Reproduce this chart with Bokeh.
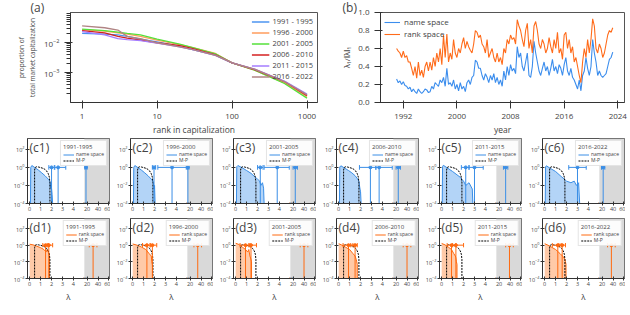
import numpy as np
from bokeh.plotting import figure
from bokeh.layouts import column, row
from bokeh.models import (Legend, LegendItem, Label, FixedTicker, BoxAnnotation, Range1d, Title)
from bokeh.embed import file_html
from bokeh.resources import INLINE
from bokeh.core.properties import value

FONT = "Open Sans"

# ---------------- (a) rank distribution ----------------
ranks = [1, 2, 3, 4, 6, 10, 20, 30, 60, 100, 200, 500, 1000]
periods_a = ["1991 - 1995", "1996 - 2000", "2001 - 2005", "2006 - 2010", "2011 - 2015", "2016 - 2022"]
share_1991 = [0.020, 0.019, 0.018, 0.016, 0.013, 0.0105, 0.0075, 0.0058, 0.0038, 0.0021, 0.00125, 0.00050, 0.00018]
share_1996 = [0.027, 0.024, 0.021, 0.019, 0.016, 0.0120, 0.0085, 0.0068, 0.0043, 0.0021, 0.00120, 0.00045, 0.00016]
share_2001 = [0.028, 0.025, 0.022, 0.020, 0.018, 0.0130, 0.0088, 0.0068, 0.0042, 0.0021, 0.00120, 0.00043, 0.00014]
share_2006 = [0.025, 0.021, 0.016, 0.014, 0.012, 0.0098, 0.0078, 0.0062, 0.0039, 0.0021, 0.00125, 0.00050, 0.00017]
share_2011 = [0.023, 0.018, 0.0135, 0.0125, 0.0115, 0.0095, 0.0072, 0.0058, 0.0037, 0.0021, 0.00130, 0.00052, 0.00019]
share_2016 = [0.036, 0.031, 0.026, 0.016, 0.0135, 0.0098, 0.0072, 0.0058, 0.0037, 0.0021, 0.00130, 0.00050, 0.00018]
shares = [share_1991, share_1996, share_2001, share_2006, share_2011, share_2016]
colors_a = ["#4d94f0", "#ff9d5c", "#55e03a", "#d42020", "#a57cff", "#b08484"]

# ---------------- (b) lambda_1 / ||lambda||_1 ----------------
year_start = 1991.0
year_step = 0.25
name_space = [0.26, 0.22, 0.24, 0.20, 0.23, 0.19, 0.18, 0.15, 0.17, 0.12, 0.15, 0.12, 0.10, 0.15, 0.12, 0.10,
              0.12, 0.15, 0.14, 0.11, 0.12, 0.18, 0.15, 0.22, 0.20, 0.18, 0.25, 0.22, 0.28, 0.18, 0.38, 0.20,
              0.22, 0.18, 0.25, 0.15, 0.20, 0.13, 0.22, 0.15, 0.18, 0.12, 0.22, 0.25, 0.20, 0.28, 0.30, 0.47,
              0.45, 0.38, 0.38, 0.30, 0.25, 0.32, 0.28, 0.22, 0.30, 0.25, 0.32, 0.22, 0.28, 0.20, 0.25, 0.18,
              0.35, 0.25, 0.40, 0.30, 0.42, 0.35, 0.38, 0.32, 0.62, 0.50, 0.55, 0.40, 0.35, 0.45, 0.55, 0.30,
              0.28, 0.40, 0.68, 0.55, 0.45, 0.35, 0.30, 0.38, 0.45, 0.35, 0.40, 0.30, 0.38, 0.48, 0.35, 0.40,
              0.32, 0.42, 0.38, 0.30, 0.42, 0.50, 0.35, 0.30, 0.38, 0.28, 0.25, 0.20, 0.15, 0.25, 0.13, 0.30,
              0.35, 0.50, 0.38, 0.30, 0.40, 0.70, 0.55, 0.45, 0.30, 0.35, 0.30, 0.28, 0.30, 0.32, 0.40, 0.48,
              0.50, 0.56]
rank_space = [0.60, 0.57, 0.55, 0.50, 0.57, 0.50, 0.52, 0.45, 0.45, 0.38, 0.30, 0.40, 0.27, 0.45, 0.30, 0.36,
              0.28, 0.40, 0.45, 0.35, 0.45, 0.36, 0.50, 0.40, 0.55, 0.45, 0.60, 0.42, 0.75, 0.50, 0.76, 0.45,
              0.55, 0.48, 0.70, 0.55, 0.50, 0.60, 0.55, 0.65, 0.72, 0.60, 0.68, 0.62, 0.58, 0.55, 0.65, 0.80,
              0.78, 0.72, 0.75, 0.65, 0.62, 0.55, 0.70, 0.50, 0.55, 0.60, 0.50, 0.45, 0.55, 0.45, 0.50, 0.42,
              0.60, 0.55, 0.70, 0.65, 0.75, 0.70, 0.72, 0.65, 0.92, 0.85, 0.80, 0.70, 0.62, 0.80, 0.88, 0.60,
              0.70, 0.55, 0.85, 0.90, 0.80, 0.65, 0.60, 0.70, 0.65, 0.55, 0.60, 0.72, 0.62, 0.55, 0.70, 0.60,
              0.78, 0.55, 0.60, 0.48, 0.75, 0.78, 0.60, 0.70, 0.55, 0.62, 0.45, 0.50, 0.40, 0.30, 0.22, 0.45,
              0.60, 0.50, 0.70, 0.55, 0.70, 0.93, 0.85, 0.60, 0.55, 0.65, 0.60, 0.50, 0.55, 0.65, 0.75, 0.80,
              0.78, 0.83]

# ---------------- (c)/(d) eigenvalue spectra ----------------
periods_s = ["1991-1995", "1996-2000", "2001-2005", "2006-2010", "2011-2015", "2016-2022"]
mp_lam = [0.45, 0.45, 0.50, 0.60, 0.80, 1.00, 1.20, 1.40, 1.55, 1.70, 1.80, 1.85, 1.85]
mp_rho = [1e-4, 0.5, 0.95, 1.15, 1.10, 0.95, 0.80, 0.60, 0.40, 0.20, 0.08, 0.02, 1e-4]

name_lam = [
    [0.07, 0.10, 0.20, 0.50, 0.80, 1.10, 1.40, 1.70, 1.85, 1.90, 1.95, 2.05, 2.10],
    [0.07, 0.10, 0.20, 0.50, 0.80, 1.10, 1.40, 1.70, 1.85, 1.90, 1.95, 2.00, 2.05],
    [0.07, 0.10, 0.20, 0.60, 1.00, 1.40, 1.80, 2.00, 2.20, 2.30, 2.45, 2.55, 2.60],
    [0.07, 0.10, 0.20, 0.50, 0.90, 1.20, 1.50, 1.70, 1.85, 1.90, 1.95, 2.00, 2.05],
    [0.05, 0.08, 0.15, 0.50, 1.00, 1.40, 1.70, 1.90, 2.00, 2.20, 2.50, 2.80, 2.85],
    [0.05, 0.08, 0.15, 0.50, 1.00, 1.50, 1.80, 2.00, 2.40, 2.70, 2.90, 3.10, 3.20],
]
name_rho = [
    [1e-4, 1.0, 1.6, 0.9, 0.50, 0.25, 0.12, 0.05, 0.03, 0.005, 0.02, 0.001, 1e-4],
    [1e-4, 1.0, 1.6, 0.9, 0.50, 0.25, 0.12, 0.05, 0.03, 0.02, 0.004, 0.01, 1e-4],
    [1e-4, 1.2, 1.6, 0.9, 0.45, 0.22, 0.08, 0.05, 0.03, 0.01, 0.02, 0.005, 1e-4],
    [1e-4, 1.1, 1.5, 0.9, 0.45, 0.25, 0.12, 0.06, 0.03, 0.01, 0.004, 0.002, 1e-4],
    [1e-4, 1.2, 1.7, 0.9, 0.35, 0.15, 0.08, 0.04, 0.03, 0.01, 0.02, 0.004, 1e-4],
    [1e-4, 1.1, 1.5, 0.8, 0.35, 0.10, 0.05, 0.03, 0.02, 0.03, 0.01, 0.02, 1e-4],
]
name_bars = [
    [(1.75, 2.0, 2.25), (2.3, 2.6, 3.3), (16.0, 18.0, 20.0)],
    [(1.8, 1.95, 2.1), (2.3, 3.6, 4.9), (15.0, 16.0, 18.0)],
    [(2.0, 2.25, 2.5), (2.6, 3.8, 4.9), (20.0, 24.0, 28.0)],
    [(1.9, 2.9, 3.4), (3.4, 3.7, 4.9), (20.0, 24.0, 28.0)],
    [(1.8, 2.2, 2.5), (2.5, 3.0, 3.8), (28.0, 32.0, 36.0)],
    [(2.2, 3.0, 3.8), (19.0, 22.0, 25.0)],
]
rank_lam = [
    [0.0, 0.3, 0.6, 1.0, 1.3, 1.5, 1.6, 1.75, 1.8, 1.8],
    [0.0, 0.4, 0.8, 1.2, 1.5, 1.7, 1.75, 1.8, 1.82, 1.82],
    [0.0, 0.3, 0.6, 0.9, 1.1, 1.2, 1.3, 1.4, 1.45, 1.45],
    [0.0, 0.3, 0.6, 1.0, 1.3, 1.5, 1.6, 1.65, 1.7, 1.7],
    [0.0, 0.3, 0.6, 0.9, 1.1, 1.25, 1.3, 1.35, 1.4, 1.4],
    [0.0, 0.3, 0.6, 1.0, 1.4, 1.7, 1.85, 1.9, 1.95, 1.95],
]
rank_rho = [
    [1.3, 1.1, 0.8, 0.5, 0.3, 0.15, 0.3, 0.1, 0.05, 1e-4],
    [1.4, 1.0, 0.6, 0.3, 0.1, 0.05, 0.01, 0.005, 0.003, 1e-4],
    [1.7, 1.2, 0.6, 0.3, 0.15, 0.3, 0.05, 0.02, 0.01, 1e-4],
    [1.5, 1.0, 0.6, 0.3, 0.1, 0.05, 0.02, 0.01, 0.005, 1e-4],
    [1.6, 1.1, 0.6, 0.3, 0.1, 0.05, 0.03, 0.01, 0.005, 1e-4],
    [1.5, 1.0, 0.6, 0.3, 0.1, 0.04, 0.02, 0.01, 0.005, 1e-4],
]
rank_bars = [
    [(1.2, 1.45, 1.7), (1.6, 1.75, 2.1), (24.0, 31.0, 38.0)],
    [(0.9, 1.3, 1.6), (1.6, 1.8, 2.2), (27.0, 34.0, 41.0)],
    [(0.4, 0.9, 1.3), (1.2, 1.4, 1.9), (33.0, 40.0, 47.0)],
    [(0.4, 0.9, 1.3), (1.1, 1.5, 1.7), (33.0, 40.0, 47.0)],
    [(0.5, 0.9, 1.3), (1.0, 1.3, 2.0), (32.0, 39.0, 46.0)],
    [(0.7, 1.2, 1.5), (1.3, 1.6, 1.9), (30.0, 37.0, 44.0)],
]

FLOOR = 1e-4
YTOP = 10 ** 3.2


def brk(lam):
    """broken lambda axis: [0,5] linear, then [15,60] compressed"""
    return lam if lam <= 5 else 5 + (lam - 15) * 0.05


def style_axes(p, size="6px"):
    for ax in (p.xaxis[0], p.yaxis[0]):
        ax.major_label_text_font = FONT
        ax.major_label_text_font_size = size
        ax.axis_label_text_font = FONT
        ax.axis_label_text_font_style = "normal"
        ax.axis_line_color = "#333333"
        ax.major_tick_line_color = "#333333"
        ax.minor_tick_line_color = "#333333"
    p.xgrid.visible = False
    p.ygrid.visible = False
    p.outline_line_color = "#555555"
    p.background_fill_color = "white"
    p.border_fill_color = "white"


def panel_title(p, text, offset):
    p.add_layout(Title(text=text, align="left", offset=offset, standoff=-7, text_font=FONT,
                       text_font_size="12px", text_font_style="normal"), "above")


# ---------------- panel (a) ----------------
pa = figure(width=338, height=137, x_axis_type="log", y_axis_type="log",
            x_range=Range1d(0.7, 1380), y_range=Range1d(1e-4, 0.1),
            output_backend="svg", toolbar_location=None,
            min_border_left=70, min_border_right=21, min_border_top=0, min_border_bottom=24)
style_axes(pa, "8px")
items = []
for lab, s, c in zip(periods_a, shares, colors_a):
    r = pa.line(ranks, s, color=c, line_width=1.3)
    items.append(LegendItem(label=lab, renderers=[r]))
leg = Legend(items=items, location="top_right", border_line_color=None, background_fill_alpha=0,
             label_text_font=FONT, label_text_font_size="7.5px", glyph_width=18, glyph_height=7,
             label_height=7, spacing=1, padding=2, margin=4, label_standoff=3)
pa.add_layout(leg)
pa.xaxis.axis_label = "rank in capitalization"
pa.xaxis.axis_label_text_font_size = "8.5px"
pa.xaxis.axis_label_standoff = 2
pa.yaxis.axis_label = "proportion of\ntotal market capitalization"
pa.yaxis.axis_label_text_font_size = "6.5px"
pa.yaxis.axis_label_standoff = 4
pa.yaxis.ticker = FixedTicker(ticks=[1e-3, 1e-2], minor_ticks=[2e-4, 3e-4, 4e-4, 5e-4, 6e-4, 7e-4, 8e-4, 9e-4,
                                                              2e-3, 3e-3, 4e-3, 5e-3, 6e-3, 7e-3, 8e-3, 9e-3,
                                                              2e-2, 3e-2, 4e-2, 5e-2, 6e-2, 7e-2, 8e-2, 9e-2])
pa.xaxis.ticker = FixedTicker(ticks=[1, 10, 100, 1000])
pa.xaxis.major_label_overrides = {1: "1", 10: "10", 100: "100", 1000: "1000"}
panel_title(pa, "(a)", -40)

# ---------------- panel (b) ----------------
years = [year_start + year_step * i for i in range(len(name_space))]
pb = figure(width=291, height=137, x_range=Range1d(1988.6, 2025.0), y_range=Range1d(0, 1.0),
            output_backend="svg", toolbar_location=None,
            min_border_left=40, min_border_right=5, min_border_top=0, min_border_bottom=24)
style_axes(pb, "8px")
rn = pb.line(years, name_space, color="#3b8ded", line_width=1.1)
rr = pb.line(years, rank_space, color="#ff6b1a", line_width=1.1)
legb = Legend(items=[LegendItem(label="name space", renderers=[rn]),
                     LegendItem(label="rank space", renderers=[rr])],
              location="top_left", border_line_color=None, background_fill_alpha=0,
              label_text_font=FONT, label_text_font_size="8px", glyph_width=16, glyph_height=8,
              label_height=8, spacing=1, padding=2, margin=4, label_standoff=4)
pb.add_layout(legb)
pb.xaxis.ticker = FixedTicker(ticks=[1992, 2000, 2008, 2016, 2024])
pb.yaxis.ticker = FixedTicker(ticks=[0, 0.2, 0.4, 0.6, 0.8, 1.0])
pb.yaxis.major_label_overrides = {0: "0.0", 1: "1.0"}
pb.xaxis.axis_label = "year"
pb.xaxis.axis_label_text_font_size = "8.5px"
pb.xaxis.axis_label_standoff = 2
pb.yaxis.axis_label = "λ\u2081/\u2016λ\u2016\u2081"
pb.yaxis.axis_label_text_font_size = "8px"
pb.yaxis.axis_label_standoff = 3
panel_title(pb, "(b)", -38)


# ---------------- small panels ----------------
def small(tag, period, lam, rho, bars, color, fill, space_label, bottom_row, first):
    h = 87 if bottom_row else 80
    left = 27 if first else 20
    p = figure(width=left + 83, height=h, y_axis_type="log",
               x_range=Range1d(-0.2, 7.3), y_range=Range1d(FLOOR, YTOP),
               output_backend="svg", toolbar_location=None,
               min_border_left=left, min_border_right=1, min_border_top=1,
               min_border_bottom=25 if bottom_row else 14)
    style_axes(p, "5.5px")
    p.add_layout(BoxAnnotation(left=5, fill_color="#d9d9d9", fill_alpha=1, line_color=None,
                               level="underlay"))
    xs = [brk(v) for v in lam]
    p.varea(x=xs, y1=[FLOOR] * len(xs), y2=rho, fill_color=fill, fill_alpha=1)
    rl = p.line(xs, rho, color=color, line_width=1)
    rm = p.line([brk(v) for v in mp_lam], mp_rho, color="black", line_dash="2 1", line_width=1)
    lo = [brk(b[0]) for b in bars]
    ce = [brk(b[1]) for b in bars]
    hi = [brk(b[2]) for b in bars]
    p.segment(x0=ce, y0=[FLOOR] * len(ce), x1=ce, y1=[1.0] * len(ce), color=color, line_width=1)
    p.segment(x0=lo, y0=[1.0] * len(lo), x1=hi, y1=[1.0] * len(hi), color=color, line_width=1)
    p.segment(x0=lo + hi, y0=[0.55] * (2 * len(lo)), x1=lo + hi, y1=[1.8] * (2 * len(lo)),
              color=color, line_width=1)
    p.scatter(ce, [1.0] * len(ce), size=3, color=color)
    p.text(x=[5], y=[FLOOR], text=["//"], text_font=value(FONT), text_font_size="6px",
           text_align="center", text_baseline="middle", text_color="#333333")
    p.xaxis.ticker = FixedTicker(ticks=[0, 1, 2, 3, 4, brk(20), brk(40), brk(60)])
    p.xaxis.major_label_overrides = {brk(20): "20", brk(40): "40", brk(60): "60"}
    p.yaxis.ticker = FixedTicker(ticks=[1e-4, 1e-2, 1, 100])
    p.xaxis.minor_tick_line_color = None
    p.yaxis.minor_tick_line_color = None
    p.xaxis.major_tick_out = 2
    p.yaxis.major_tick_out = 2
    p.xaxis.major_label_standoff = 1
    p.yaxis.major_label_standoff = 1
    if bottom_row:
        p.xaxis.axis_label = "λ"
        p.xaxis.axis_label_text_font_size = "8px"
        p.xaxis.axis_label_standoff = 2
    lg = Legend(items=[LegendItem(label=space_label, renderers=[rl]),
                       LegendItem(label="M-P", renderers=[rm])],
                location="top_right", title=period, title_text_font=FONT,
                title_text_font_size="6px", title_text_font_style="normal", title_standoff=0,
                label_text_font=FONT, label_text_font_size="5px", glyph_width=11, glyph_height=5,
                label_height=5, spacing=0, padding=2, margin=2, label_standoff=2,
                border_line_color="#cccccc", background_fill_alpha=0.9)
    p.add_layout(lg)
    p.add_layout(Label(x=-0.2, y=YTOP, x_offset=2, y_offset=0, text=tag, text_font=FONT,
                       text_font_size="12px", text_baseline="top"))
    return p


crow = [small("(c%d)" % (i + 1), periods_s[i], name_lam[i], name_rho[i], name_bars[i],
              "#3a8ee6", "#b3d4f7", "name space", False, i == 0) for i in range(6)]
drow = [small("(d%d)" % (i + 1), periods_s[i], rank_lam[i], rank_rho[i], rank_bars[i],
              "#ff6a10", "#ffcaa8", "rank space", True, i == 0) for i in range(6)]

layout = column(row(pa, pb), row(*crow), row(*drow))
open("out.html", "w").write(file_html(layout, INLINE))
